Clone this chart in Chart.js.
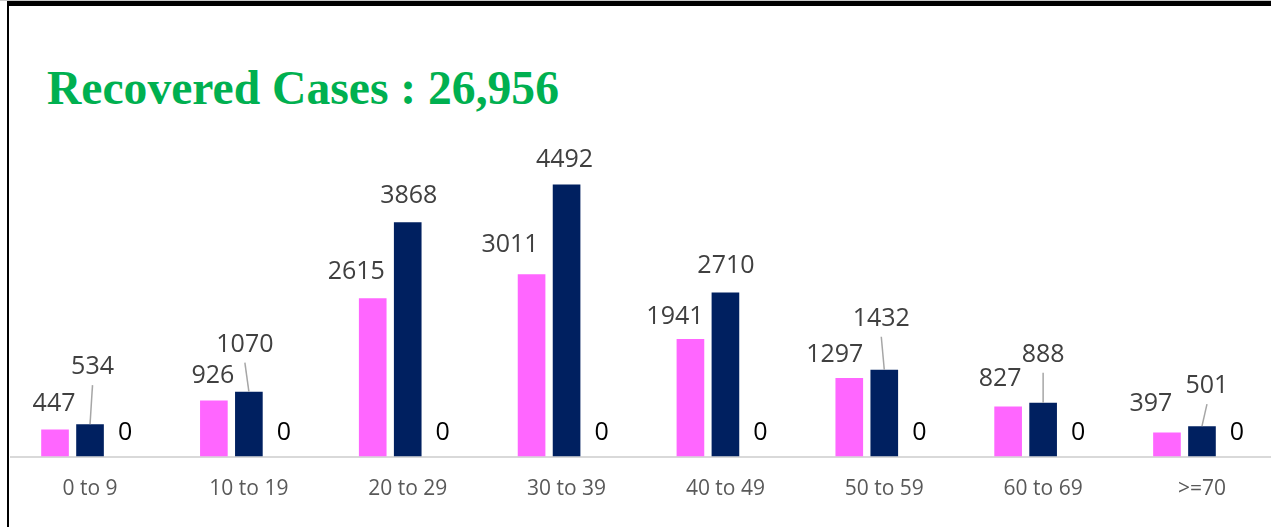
<!DOCTYPE html>
<html>
<head>
<meta charset="utf-8">
<script src="https://cdn.jsdelivr.net/npm/chart.js@4"></script>
<style>
  html, body { margin: 0; padding: 0; background: #fff; overflow: hidden; }
  body { width: 1271px; height: 527px; position: relative; }
  #topline { position: absolute; left: 0; top: 0; width: 1271px; height: 1px; background: #c8c8c8; }
  #frame { position: absolute; left: 7px; top: 1px; width: 1300px; height: 540px;
           border-top: 5px solid #000; border-left: 2px solid #000; }
  #title { position: absolute; left: 47px; top: 61px; line-height: 47px; white-space: nowrap;
           font: bold 47.6px "Liberation Serif", "Times New Roman", serif; color: #00B050; }
  #wrap { position: absolute; left: 0; top: 0; width: 1290px; height: 527px; }
</style>
</head>
<body>
<div id="topline"></div>
<div id="frame"></div>
<div id="title">Recovered Cases : 26,956</div>
<div id="wrap"><canvas id="ageChart" width="1290" height="527"></canvas></div>

<script>
const ageGroups = ['0 to 9', '10 to 19', '20 to 29', '30 to 39', '40 to 49', '50 to 59', '60 to 69', '>=70'];
const pinkValues = [447, 926, 2615, 3011, 1941, 1297, 827, 397];
const navyValues = [534, 1070, 3868, 4492, 2710, 1432, 888, 501];
const otherValues = [0, 0, 0, 0, 0, 0, 0, 0];
const yMax = 5000;

// label placement, relative to the top centre of each bar (dx, dy of the text centre)
const pinkLabelPos = [[-1, -27], [-1, -26.5], [-16.5, -28], [-21.5, -31], [-15.5, -24], [-14.5, -25], [-8, -29], [-16, -30]];
const navyLabelPos = [[2.5, -59], [-4, -49], [1, -28], [-2, -27], [0.5, -28], [-3, -53], [0, -50], [5, -42]];
const navyLeader = [true, true, false, false, false, true, true, true];

const labelPlugin = {
    id: 'barLabels',
    afterDatasetsDraw(chart) {
        const ctx = chart.ctx;
        ctx.save();
        ctx.font = '25px "Open Sans"';
        ctx.textAlign = 'center';
        ctx.textBaseline = 'alphabetic';
        chart.data.datasets.forEach(function (ds, di) {
            const meta = chart.getDatasetMeta(di);
            meta.data.forEach(function (bar, i) {
                let pos = [0, -26];
                if (di === 0) pos = pinkLabelPos[i];
                if (di === 1) pos = navyLabelPos[i];
                const cx = bar.x + pos[0];
                const cy = bar.y + pos[1];
                if (di === 1 && navyLeader[i]) {
                    ctx.strokeStyle = '#A6A6A6';
                    ctx.lineWidth = 1.5;
                    ctx.beginPath();
                    ctx.moveTo(cx, cy + 20);
                    ctx.lineTo(bar.x, bar.y);
                    ctx.stroke();
                }
                ctx.fillStyle = di === 2 ? '#000000' : '#404040';
                ctx.fillText(String(ds.data[i]), cx, cy + 9);
            });
        });
        ctx.restore();
    }
};

const chart = new Chart(document.getElementById('ageChart').getContext('2d'), {
    type: 'bar',
    data: {
        labels: ageGroups,
        datasets: [
            { label: 'Series 1', data: pinkValues, backgroundColor: '#FF66FF' },
            { label: 'Series 2', data: navyValues, backgroundColor: '#002060' },
            { label: 'Series 3', data: otherValues, backgroundColor: '#A5A5A5' }
        ]
    },
    options: {
        responsive: false,
        animation: false,
        devicePixelRatio: 1,
        categoryPercentage: 0.661,
        barPercentage: 0.79,
        layout: { padding: { top: 153.75, left: 10.6, right: 8.6, bottom: 0 } },
        plugins: {
            legend: { display: false },
            tooltip: { enabled: false }
        },
        scales: {
            x: {
                grid: { display: false, drawTicks: false },
                border: { display: true, color: '#D9D9D9', width: 2 },
                ticks: {
                    color: '#595959',
                    font: { family: 'Open Sans', size: 21 },
                    padding: 20,
                    maxRotation: 0,
                    autoSkip: false
                },
                afterFit: function (scale) { scale.height = 70.5; }
            },
            y: {
                display: false,
                min: 0,
                max: yMax
            }
        }
    },
    plugins: [labelPlugin]
});
</script>
</body>
</html>
